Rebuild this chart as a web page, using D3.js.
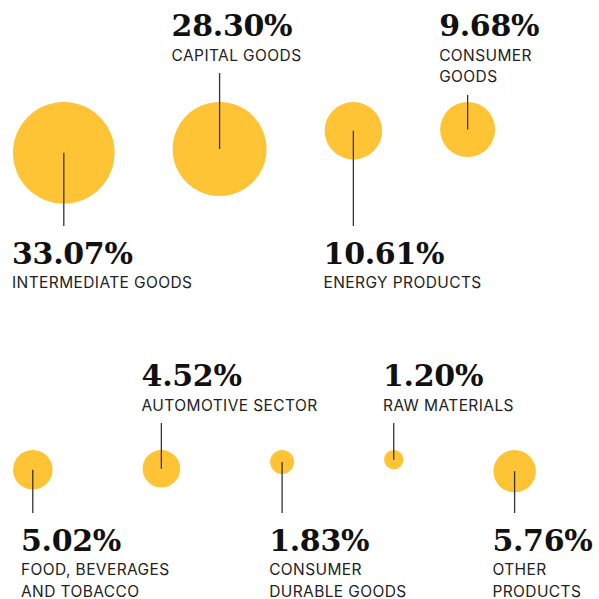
<!DOCTYPE html>
<html>
<head>
<meta charset="utf-8">
<script src="https://cdn.jsdelivr.net/npm/d3@7"></script>
<style>
  body { margin: 0; background: #fff; }
  .pct { font-family: "DejaVu Serif", serif; font-weight: bold; font-size: 30px; fill: #111; letter-spacing: -0.3px; }
  .lab { font-family: Inter, "Noto Sans", sans-serif; font-size: 15.5px; fill: #222; letter-spacing: 0.4px; }
</style>
</head>
<body>
<section></section>
<script>
// shares of total (%)
const categories = ['Intermediate goods', 'Capital goods', 'Energy products', 'Consumer goods',
  'Food, beverages and tobacco', 'Automotive sector', 'Consumer durable goods', 'Raw materials', 'Other products'];
const shares = [33.07, 28.30, 10.61, 9.68, 5.02, 4.52, 1.83, 1.20, 5.76];
const labelLines = [
  ['INTERMEDIATE GOODS'], ['CAPITAL GOODS'], ['ENERGY PRODUCTS'], ['CONSUMER', 'GOODS'],
  ['FOOD, BEVERAGES', 'AND TOBACCO'], ['AUTOMOTIVE SECTOR'], ['CONSUMER', 'DURABLE GOODS'],
  ['RAW MATERIALS'], ['OTHER', 'PRODUCTS']
];
const rowOf = [0, 0, 0, 0, 1, 1, 1, 1, 1];
const sideOf = ['below', 'above', 'below', 'above', 'below', 'above', 'below', 'above', 'below'];

let width = 599;
let height = 599;

// row layout
let rowTop = [102, 450];
let rowGap = [58, 90];
let rowTopText = [36, 386];
let rowLineEnd = [226, 513];
let rowMinX = [12, 21];
let startX = 13;

let r = d3.scaleSqrt()
  .domain([0, d3.max(shares)])
  .range([0, 50.8]);

let fmt = d3.format('.2f');

let data = shares.map((v, i) => ({
  name: categories[i], value: v, lines: labelLines[i], row: rowOf[i], side: sideOf[i]
}));

// place circles side by side in each row
[0, 1].forEach((row) => {
  let x = startX;
  data.filter(d => d.row === row).forEach((d) => {
    d.r = r(d.value);
    d.cx = x + d.r;
    d.cy = rowTop[row] + d.r;
    x += 2 * d.r + rowGap[row];
  });
});

let svg = d3.select('section')
  .append('svg')
  .attr('width', width)
  .attr('height', height);

svg.selectAll('circle')
  .data(data)
  .enter()
  .append('circle')
  .attr('cx', d => d.cx)
  .attr('cy', d => d.cy)
  .attr('r', d => d.r)
  .attr('fill', '#fec436');

let groups = svg.selectAll('g.item')
  .data(data)
  .enter()
  .append('g')
  .attr('class', 'item');

groups.each(function (d) {
  let g = d3.select(this);
  let tx = Math.max(d.cx - d.r - 1, rowMinX[d.row]);
  let pctY, lineY1, lineY2;
  if (d.side === 'above') {
    pctY = rowTopText[d.row];
    let lastBase = pctY + 25 + (d.lines.length - 1) * 22;
    lineY1 = lastBase + 12;
    lineY2 = d.cy;
  } else {
    lineY1 = d.cy;
    lineY2 = rowLineEnd[d.row];
    pctY = lineY2 + 37.5;
  }

  g.append('line')
    .attr('x1', d.cx).attr('x2', d.cx)
    .attr('y1', lineY1).attr('y2', lineY2)
    .attr('stroke', '#333')
    .attr('stroke-width', 1.3);

  g.append('text')
    .attr('class', 'pct')
    .attr('x', tx)
    .attr('y', pctY)
    .text(fmt(d.value) + '%');

  g.selectAll('text.lab')
    .data(d.lines)
    .enter()
    .append('text')
    .attr('class', 'lab')
    .attr('x', tx)
    .attr('y', (t, i) => pctY + 24.5 + i * 21.5)
    .text(t => t);
});
</script>
</body>
</html>
